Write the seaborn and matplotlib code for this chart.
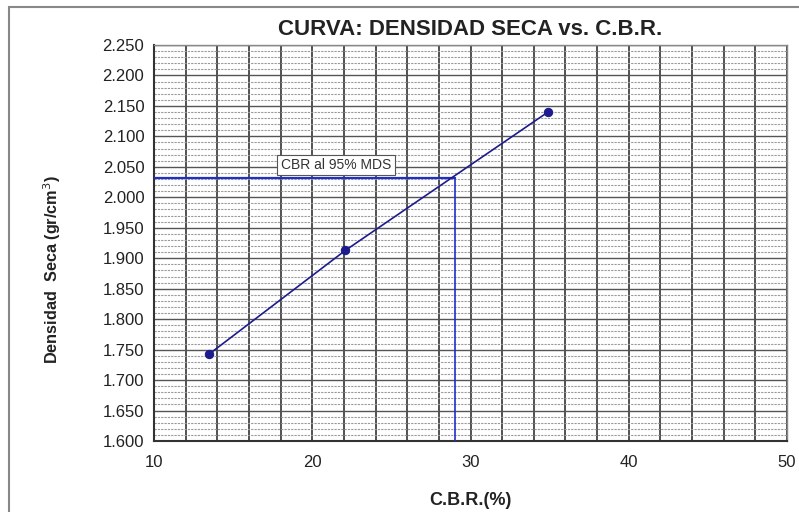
import matplotlib
matplotlib.use("Agg")
import matplotlib.pyplot as plt
import seaborn as sns
import numpy as np
import pandas as pd
from matplotlib.ticker import MultipleLocator, FixedLocator
from matplotlib.patches import Rectangle

cbr = [13.5, 22.1, 34.9]
densidad = [1.743, 1.913, 2.140]
cbr_95 = 29.0
mds_95 = 2.032
x_ticks = [10, 20, 30, 40, 50]
y_ticks = [1.600, 1.650, 1.700, 1.750, 1.800, 1.850, 1.900, 1.950, 2.000, 2.050, 2.100, 2.150, 2.200, 2.250]

sns.set_theme(style="white")
plt.rcParams['font.family'] = ['Liberation Sans', 'DejaVu Sans']

df = pd.DataFrame({"CBR": cbr, "Densidad": densidad})

fig = plt.figure(figsize=(7.99, 5.12), dpi=100)
ax = fig.add_axes([154/799, 1-441/512, (787-154)/799, (441-45)/512])

# frame around figure
fig.patches.append(Rectangle((9/799, -0.01), 1.0, 1-7/512+0.01, transform=fig.transFigure,
                             fill=False, edgecolor="#888888", linewidth=1.5))

ax.set_xlim(10, 50)
ax.set_ylim(1.600, 2.250)
ax.xaxis.set_major_locator(FixedLocator(x_ticks))
ax.xaxis.set_minor_locator(MultipleLocator(2))
ax.yaxis.set_major_locator(FixedLocator(y_ticks))
ax.yaxis.set_minor_locator(MultipleLocator(0.01))

ax.grid(which="minor", axis="y", color="#9a9a9a", linestyle=(0, (2, 1)), linewidth=0.8)
ax.grid(which="major", axis="y", color="#555555", linestyle="-", linewidth=1.0)
ax.grid(which="both", axis="x", color="#333333", linestyle="-", linewidth=1.2)
ax.set_axisbelow(True)

ax.plot([10, cbr_95], [mds_95, mds_95], color="#1f2fc8", linewidth=1.6, zorder=3)
ax.plot([cbr_95, cbr_95], [mds_95, 1.600], color="#1f2fc8", linewidth=1.2, zorder=3)

sns.lineplot(data=df, x="CBR", y="Densidad", ax=ax, color="#1c1c8c", linewidth=1.2,
             marker="o", markersize=6, markeredgecolor="#1c1c8c", zorder=4)

ax.text(21.5, 2.053, "CBR al 95% MDS", fontsize=10, ha="center", va="center", color="#333333",
        bbox=dict(boxstyle="square,pad=0.25", facecolor="white", edgecolor="#555555", linewidth=0.8), zorder=5)

ax.set_yticklabels([f"{v:.3f}" for v in y_ticks])
ax.tick_params(axis="both", which="major", direction="out", length=4, width=1, color="#333333",
               labelsize=12, labelcolor="#222222", pad=3)
ax.tick_params(axis="x", pad=6)
ax.tick_params(which="minor", length=0)

for s in ["top", "right"]:
    ax.spines[s].set_color("#888888")
    ax.spines[s].set_linewidth(1.0)
for s in ["left", "bottom"]:
    ax.spines[s].set_color("#333333")
    ax.spines[s].set_linewidth(1.5)

ax.set_xlabel("C.B.R.(%)", fontsize=13, fontweight="bold", labelpad=16, color="#222222")
ax.set_ylabel("Densidad  Seca (gr/cm$^3$)", fontsize=11.7, fontweight="bold", color="#222222")
ax.yaxis.set_label_coords(-0.143, 0.432)
ax.set_title("CURVA: DENSIDAD SECA vs. C.B.R.", fontsize=16, fontweight="bold", pad=7, color="#222222")

fig.savefig("out.png", dpi=100)
